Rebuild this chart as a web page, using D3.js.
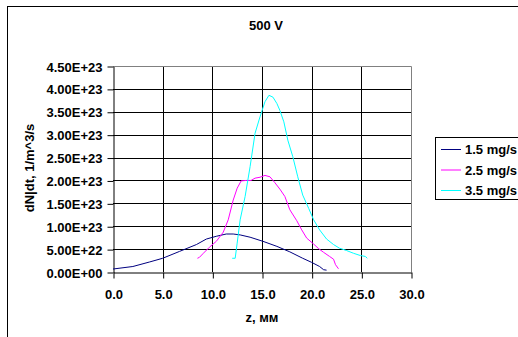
<!DOCTYPE html>
<html>
<head>
<meta charset="utf-8">
<script src="https://cdn.jsdelivr.net/npm/d3@7"></script>
<style>
    body { margin: 0; background: #fff; }
    text { font-family: "Liberation Sans", Arial, sans-serif; font-weight: bold; font-size: 13px; fill: #000; }
</style>
</head>
<body>
<svg id="chart" width="518" height="337"></svg>
<script>
const title = '500 V';
const xTitle = 'z, мм';
const yTitle = 'dN|dt, 1/m^3/s';
const seriesNames = ['1.5 mg/s', '2.5 mg/s', '3.5 mg/s'];
const seriesColors = ['#000080', '#ff00ff', '#00ffff'];
const xTicks = [0, 5, 10, 15, 20, 25, 30];
const yTicks = [0, 0.5e23, 1e23, 1.5e23, 2e23, 2.5e23, 3e23, 3.5e23, 4e23, 4.5e23];

// z (mm), dN/dt (units of 1E23)
const z15 = [0, 2, 3.7, 5, 6.7, 8.4, 9.4, 10.4, 11.4, 12.1, 12.8, 13.8, 15.1, 16.5, 17.8, 19.1, 20.0, 20.8, 21.2, 21.5];
const v15 = [0.065, 0.12, 0.22, 0.30, 0.45, 0.60, 0.72, 0.78, 0.83, 0.83, 0.81, 0.76, 0.67, 0.56, 0.44, 0.30, 0.21, 0.12, 0.05, 0.04];
const z25 = [8.5, 8.7, 9.1, 9.7, 10.4, 11.1, 11.6, 12.1, 12.5, 12.9, 13.4, 13.9, 14.3, 14.8, 15.3, 15.8, 16.3, 16.8, 17.3, 17.8, 18.5, 19.0, 19.5, 20.2, 20.7, 21.2, 21.8, 22.2, 22.4, 22.7];
const v25 = [0.30, 0.32, 0.41, 0.54, 0.67, 0.87, 1.14, 1.57, 1.83, 1.99, 2.0, 2.0, 2.05, 2.07, 2.11, 2.08, 1.95, 1.81, 1.65, 1.36, 1.12, 0.92, 0.74, 0.61, 0.51, 0.43, 0.34, 0.28, 0.16, 0.07];
const z35 = [12.0, 12.3, 12.5, 12.8, 13.3, 13.8, 14.3, 14.8, 15.3, 15.7, 16.1, 16.5, 16.8, 17.2, 17.6, 18.1, 18.6, 19.1, 19.7, 20.2, 20.8, 21.5, 22.2, 22.8, 23.5, 24.2, 24.9, 25.4, 25.6];
const v35 = [0.30, 0.30, 0.63, 1.14, 1.65, 2.30, 3.03, 3.39, 3.72, 3.86, 3.82, 3.68, 3.53, 3.28, 2.88, 2.52, 2.08, 1.68, 1.39, 1.14, 0.92, 0.72, 0.60, 0.52, 0.47, 0.41, 0.36, 0.34, 0.30];

const series = [[z15, v15], [z25, v25], [z35, v35]].map(([zs, vs], i) => ({
    name: seriesNames[i],
    color: seriesColors[i],
    points: zs.map((z, j) => [z, vs[j] * 1e23]),
}));

const svg = d3.select('#chart');
const plot = { left: 113, top: 66, right: 411, bottom: 272 };

const x = d3.scaleLinear().domain([0, 30]).range([plot.left, plot.right]);
const y = d3.scaleLinear().domain([0, 4.5e23]).range([plot.bottom, plot.top]);

// outer frame, right and bottom edges run off the picture
svg.append('rect')
    .attr('x', 7.5).attr('y', 6.5)
    .attr('width', 600).attr('height', 600)
    .attr('fill', '#fff').attr('stroke', '#000');

svg.append('text')
    .attr('x', 266).attr('y', 30)
    .attr('text-anchor', 'middle')
    .text(title);

// gridlines
svg.append('g')
    .selectAll('line')
    .data(yTicks.slice(1, -1))
    .join('line')
    .attr('x1', plot.left).attr('x2', plot.right)
    .attr('y1', d => Math.round(y(d)) + 0.5).attr('y2', d => Math.round(y(d)) + 0.5)
    .attr('stroke', '#000');

svg.append('g')
    .selectAll('line')
    .data(xTicks.slice(1, -1))
    .join('line')
    .attr('y1', plot.top).attr('y2', plot.bottom)
    .attr('x1', d => Math.round(x(d)) + 0.5).attr('x2', d => Math.round(x(d)) + 0.5)
    .attr('stroke', '#000');

// plot border (top / right in gray)
svg.append('path')
    .attr('d', `M${plot.left},${plot.top + 0.5}H${plot.right + 0.5}V${plot.bottom}`)
    .attr('fill', 'none')
    .attr('stroke', '#808080');

const sciFormat = d => {
    if (d === 0) return '0.00E+00';
    const exp = Math.floor(Math.log10(d) + 1e-9);
    return (d / Math.pow(10, exp)).toFixed(2) + 'E+' + exp;
};

const xAxis = d3.axisBottom(x).tickValues(xTicks).tickFormat(d3.format('.1f')).tickSize(6).tickSizeOuter(0);
const yAxis = d3.axisLeft(y).tickValues(yTicks).tickFormat(sciFormat).tickSize(6).tickSizeOuter(0);

const xG = svg.append('g')
    .attr('transform', `translate(0.5, ${plot.bottom + 0.5})`)
    .call(xAxis);
xG.selectAll('text').attr('dy', null).attr('y', 26);

const yG = svg.append('g')
    .attr('transform', `translate(${plot.left + 0.5}, 0.5)`)
    .call(yAxis);
yG.selectAll('text').attr('x', -11).attr('dy', '0.35em');

[xG, yG].forEach(g => {
    g.attr('font-family', null).attr('font-size', null);
    g.selectAll('line, path').attr('stroke', '#000');
});

const line = d3.line()
    .x(d => x(d[0]))
    .y(d => y(d[1]));

svg.append('g')
    .selectAll('path')
    .data(series)
    .join('path')
    .attr('d', d => line(d.points))
    .attr('fill', 'none')
    .attr('stroke', d => d.color)
    .attr('stroke-width', 1);

// axis titles
svg.append('text')
    .attr('x', 262).attr('y', 322)
    .attr('text-anchor', 'middle')
    .text(xTitle);

svg.append('text')
    .attr('transform', 'translate(34, 168) rotate(-90)')
    .attr('text-anchor', 'middle')
    .text(yTitle);

// legend
const legend = svg.append('g');
legend.append('rect')
    .attr('x', 435.5).attr('y', 137.5)
    .attr('width', 100).attr('height', 62)
    .attr('fill', '#fff')
    .attr('stroke', '#000');

const item = legend.selectAll('g')
    .data(series)
    .join('g')
    .attr('transform', (d, i) => `translate(0, ${149.5 + i * 20.5})`);

item.append('line')
    .attr('x1', 441).attr('x2', 461)
    .attr('stroke', d => d.color);

item.append('text')
    .attr('x', 465).attr('dy', '0.35em')
    .text(d => d.name);
</script>
</body>
</html>
